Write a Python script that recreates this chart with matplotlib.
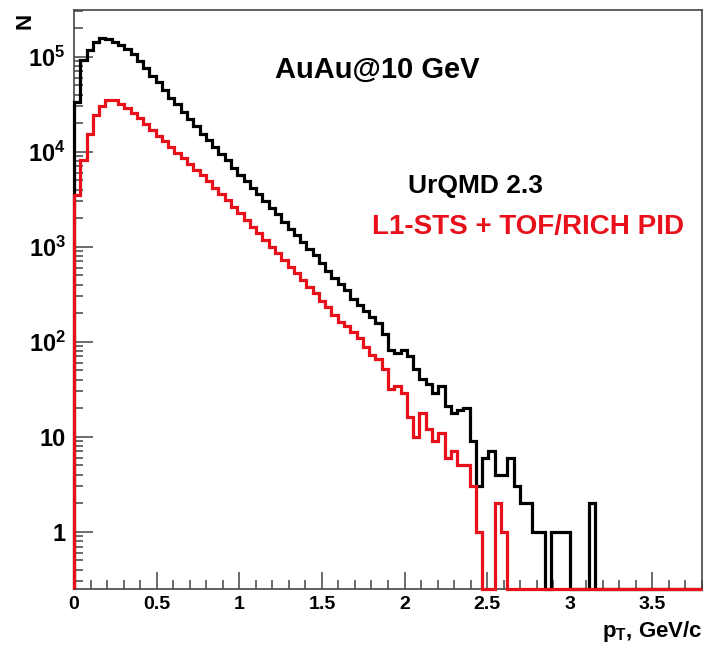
import matplotlib
matplotlib.use("Agg")
import matplotlib.pyplot as plt
import numpy as np

plt.rcParams['font.family'] = ['Liberation Sans', 'DejaVu Sans']
plt.rcParams['font.weight'] = 'bold'
plt.rcParams['mathtext.fontset'] = 'custom'
plt.rcParams['mathtext.rm'] = 'Liberation Sans:bold'
plt.rcParams['mathtext.it'] = 'Liberation Sans:bold'
plt.rcParams['mathtext.bf'] = 'Liberation Sans:bold'

# histogram: 100 bins from 0 to 3.8 GeV/c
pt_min, pt_max, n_bins = 0.0, 3.8, 100

# UrQMD 2.3 (all)
black_counts = [
    33600, 92000, 118000, 144000, 156000, 155000, 144000, 133000, 120000, 107000,
    91000, 76000, 63000, 54000, 45000, 37000, 31600, 26300, 21900, 18600,
    15500, 13200, 11200, 9500, 8100, 6800, 5750, 4900, 4170, 3550,
    3020, 2570, 2190, 1820, 1550, 1320, 1120, 955, 810, 675,
    560, 470, 405, 350, 280, 245, 212, 184, 158, 120,
    82, 77, 81, 70, 52, 41, 36, 29, 34, 21,
    18, 19, 20, 9, 3, 6, 7, 4, 4, 6,
    3, 2, 2, 1, 1, 0, 1, 1, 1, 0,
    0, 0, 2, 0, 0, 0, 0, 0, 0, 0,
    0, 0, 0, 0, 0, 0, 0, 0, 0, 0,
]

# L1-STS + TOF/RICH PID
red_counts = [
    3500, 8200, 15400, 24300, 30200, 35000, 35000, 31600, 28800, 25700,
    22400, 19500, 17000, 14800, 12900, 11200, 9800, 8500, 7400, 6450,
    5700, 4900, 4170, 3550, 3100, 2630, 2240, 1900, 1620, 1380,
    1175, 1000, 850, 725, 615, 525, 447, 380, 324, 270,
    230, 190, 162, 148, 126, 110, 88, 72, 66, 52,
    32, 34, 29, 16, 10, 18, 12, 9, 11, 6,
    7, 5, 5, 3, 1, 0, 0, 2, 1, 0,
    0, 0, 0, 0, 0, 0, 0, 0, 0, 0,
    0, 0, 0, 0, 0, 0, 0, 0, 0, 0,
    0, 0, 0, 0, 0, 0, 0, 0, 0, 0,
]

y_ticks = [1, 10, 1e2, 1e3, 1e4, 1e5]
y_tick_labels = ['1', '10', '$10^{2}$', '$10^{3}$', '$10^{4}$', '$10^{5}$']
x_ticks = [0, 0.5, 1, 1.5, 2, 2.5, 3, 3.5]
x_tick_labels = ['0', '0.5', '1', '1.5', '2', '2.5', '3', '3.5']

y_min, y_max = 0.25, 3.1e5
red = '#e8101a'
frame = '#444444'


def draw_hist(ax, counts, color):
    # ROOT-like step histogram; empty bins drawn on the frame bottom
    edges = np.linspace(pt_min, pt_max, n_bins + 1)
    vals = np.array(counts, dtype=float)
    vals = np.where(vals > 0, vals, y_min)
    ax.stairs(vals, edges, baseline=y_min, color=color, lw=2.3,
              clip_on=False, zorder=3)


def main():
    fig = plt.figure(figsize=(7.07, 6.5), dpi=100)
    ax = fig.add_axes([74 / 707, 61 / 650, 628 / 707, 579 / 650])

    ax.set_yscale('log')
    draw_hist(ax, black_counts, 'black')
    draw_hist(ax, red_counts, red)

    ax.set_xlim(pt_min, pt_max)
    ax.set_ylim(y_min, y_max)

    ax.set_yticks(y_ticks)
    ax.set_yticklabels(y_tick_labels)
    ax.set_xticks(x_ticks)
    ax.set_xticklabels(x_tick_labels)
    ax.set_xticks(np.arange(0, 3.81, 0.1), minor=True)

    for s in ax.spines.values():
        s.set_color(frame)
        s.set_linewidth(1.2)

    ax.tick_params(axis='y', which='major', direction='in', length=13.5,
                   width=1.1, color=frame, labelsize=17, pad=6)
    ax.tick_params(axis='y', which='minor', direction='in', length=6.5,
                   width=1.1, color=frame, labelleft=False)
    ax.tick_params(axis='x', which='major', direction='in', length=12.5,
                   width=1.1, color=frame, labelsize=14, pad=5)
    ax.tick_params(axis='x', which='minor', direction='in', length=6.5,
                   width=1.1, color=frame)

    fig.text(25 / 707, 1 - 21 / 650, 'N', rotation=90, fontsize=16,
             ha='center', va='center', fontweight='bold')
    fig.text(702 / 707, 1 - 637 / 650, '$p_{T}$, GeV/c', fontsize=16,
             ha='right', va='baseline', fontweight='bold')

    fig.text(275 / 707, 1 - 78 / 650, 'AuAu@10 GeV', fontsize=21,
             ha='left', va='baseline', fontweight='bold')
    fig.text(408 / 707, 1 - 193 / 650, 'UrQMD 2.3', fontsize=19,
             ha='left', va='baseline', fontweight='bold')
    fig.text(372 / 707, 1 - 234 / 650, 'L1-STS + TOF/RICH PID', fontsize=20,
             ha='left', va='baseline', fontweight='bold', color=red)

    fig.savefig('out.png', dpi=100)


main()
